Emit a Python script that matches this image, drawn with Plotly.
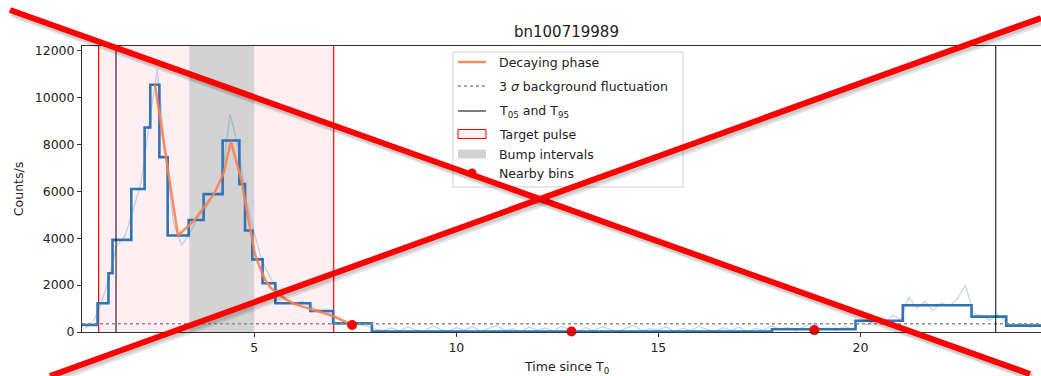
import numpy as np
import plotly.graph_objects as go

# ---- data -------------------------------------------------------------
# Bayesian-block light curve: block edges (s) and rates (counts/s)
block_edges = [0.735, 1.12, 1.39, 1.49, 1.955, 2.285, 2.425, 2.65, 2.855, 3.375,
               3.745, 4.215, 4.63, 4.77, 4.95, 5.205, 5.52, 6.385, 6.95, 7.91,
               17.81, 19.88, 21.05, 22.75, 23.61, 24.48]
block_rates = [300, 1225, 2505, 3930, 6100, 8725, 10550, 7460, 4115, 4780,
               5880, 8170, 6310, 4330, 3100, 2080, 1225, 895, 370, 15,
               115, 480, 1140, 655, 270]

# fine-binned light curve (0.2 s bins)
lc_time = np.round(np.arange(0.8, 24.41, 0.2), 2)
lc_rate = [150, 400, 1150, 2300, 3700, 4100, 5200, 6400, 8900, 11200,
           7600, 4600, 3700, 4200, 4900, 5300, 5900, 6600, 9300, 7900,
           5600, 4200, 3000, 2300, 1700, 1400, 1150, 1300, 1050, 900,
           850, 600, 450, 350, 300, 250, 120,
           60, 180, 40, 220, 90, 10, 260, 120, 30, 190,
           70, 240, 20, 150, 280, 60, 130, 10, 210, 80,
           170, 30, 250, 100, 0, 190, 60, 230, 110, 20,
           170, 270, 40, 140, 90, 220, 10, 160, 60, 250,
           110, 30, 180, 70, 210, 20, 150, 90,
           260, 120, 190, 40, 230, 380, 90, 170, 60, 240,
           130, 420, 300, 650, 380, 720, 520, 1500, 1000, 1300,
           900, 1250, 1100, 1400, 2000, 800, 700, 500, 750, 450,
           250, 350, 200, 300]

# decaying-phase curve
decay_time = [2.54, 3.11, 3.5, 4.0, 4.24, 4.42, 4.55, 4.68, 4.8, 4.9, 5.02,
              5.15, 5.27, 5.4, 5.56, 5.75, 5.97, 6.2, 6.47, 6.7, 6.95, 7.2, 7.42]
decay_rate = [10550, 4115, 4740, 5890, 6775, 8125, 7300, 6500, 5300, 4400, 3290,
              2700, 2220, 1900, 1650, 1420, 1225, 1080, 940, 820, 683, 480, 300]

bkg_level = 350                      # 3 sigma background fluctuation
t05, t95 = 1.577, 23.35
pulse_start, pulse_stop = 1.146, 6.965
bump_start, bump_stop = 3.39, 5.0
nearby_time = [7.42, 12.85, 18.86]
nearby_rate = [300, 20, 80]

title = "bn100719989"
legend_labels = ["Decaying phase", "3 <i>σ</i> background fluctuation",
                 "T<sub>05</sub> and T<sub>95</sub>", "Target pulse",
                 "Bump intervals", "Nearby bins"]
y_max = 12200
x_range = [0.735, 24.47]

# ---- colours ------------------------------------------------------------
c_pulse_fill = "rgba(255,192,203,0.25)"
c_bump = "#d3d3d3"
c_lc = "rgba(70,130,190,0.32)"
c_block = "#2f74b3"
c_bkg = "#8c8c8c"
c_decay = "rgba(255,127,80,0.9)"
txt = "#222222"
font = "DejaVu Sans, Liberation Sans, sans-serif"

# ---- figure ------------------------------------------------------------
W, H = 1041, 376
L, R, T, B = 82, 0, 46, 44
pad = 1000   # polygons spill past the y range so only their sides show

fig = go.Figure()

# target pulse span (fill only)
fig.add_trace(go.Scatter(
    x=[pulse_start, pulse_stop, pulse_stop, pulse_start, pulse_start],
    y=[-pad, -pad, y_max + pad, y_max + pad, -pad], mode="lines", fill="toself",
    fillcolor=c_pulse_fill, line=dict(width=0),
    showlegend=False, hoverinfo="skip"))

# bump interval span
fig.add_trace(go.Scatter(
    x=[bump_start, bump_stop, bump_stop, bump_start, bump_start],
    y=[-pad, -pad, y_max + pad, y_max + pad, -pad], mode="lines", fill="toself",
    fillcolor=c_bump, line=dict(width=0),
    showlegend=False, hoverinfo="skip"))

# pulse edges
for edge in (pulse_start, pulse_stop):
    fig.add_trace(go.Scatter(
        x=[edge, edge], y=[0, y_max], mode="lines",
        line=dict(color="#ff0000", width=1.2), showlegend=False,
        hoverinfo="skip"))

# fine light curve
fig.add_trace(go.Scatter(
    x=lc_time, y=lc_rate, mode="lines", line=dict(color=c_lc, width=1.3),
    showlegend=False, hoverinfo="skip"))

# block light curve
fig.add_trace(go.Scatter(
    x=block_edges, y=block_rates + [block_rates[-1]], mode="lines",
    line=dict(color=c_block, width=2.6, shape="hv"),
    showlegend=False, hoverinfo="skip"))

# background level
fig.add_trace(go.Scatter(
    x=x_range, y=[bkg_level, bkg_level], mode="lines",
    line=dict(color=c_bkg, width=1.6, dash="dot"),
    showlegend=False, hoverinfo="skip"))

# decaying phase
fig.add_trace(go.Scatter(
    x=decay_time, y=decay_rate, mode="lines",
    line=dict(color=c_decay, width=2.5), showlegend=False, hoverinfo="skip"))

# T05 / T95
fig.add_trace(go.Scatter(
    x=[t05, t05, None, t95, t95], y=[0, y_max, None, 0, y_max], mode="lines",
    line=dict(color="black", width=1), showlegend=False, hoverinfo="skip"))

# nearby bins
fig.add_trace(go.Scatter(
    x=nearby_time, y=nearby_rate, mode="markers",
    marker=dict(color="red", size=10), showlegend=False,
    hoverinfo="skip", cliponaxis=False))

pw, ph = W - L - R, H - T - B


def px(x):
    return (x - L) / pw


def py(y):
    return (H - B - y) / ph


shapes = []
annotations = []

# ---- legend box (pixel layout) ----------------------------------------
box = (453, 52, 683, 187)
shapes.append(dict(type="rect", xref="paper", yref="paper",
                   x0=px(box[0]), x1=px(box[2]), y0=py(box[3]), y1=py(box[1]),
                   fillcolor="rgba(255,255,255,0.85)",
                   line=dict(color="#d0d0d0", width=1), layer="above"))
rows = [62, 86, 111, 134, 154, 173]
sx0, sx1, tx0 = 458, 486, 497


def hline(y, color, width, dash="solid"):
    shapes.append(dict(type="line", xref="paper", yref="paper",
                       x0=px(sx0), x1=px(sx1), y0=py(y), y1=py(y),
                       line=dict(color=color, width=width, dash=dash),
                       layer="above"))


hline(rows[0], c_decay, 2.5)
hline(rows[1], c_bkg, 1.6, "dot")
hline(rows[2], "black", 1)
shapes.append(dict(type="rect", xref="paper", yref="paper",
                   x0=px(sx0), x1=px(sx1), y0=py(rows[3] + 4.5), y1=py(rows[3] - 4.5),
                   fillcolor="#fff0f3", line=dict(color="red", width=1),
                   layer="above"))
shapes.append(dict(type="rect", xref="paper", yref="paper",
                   x0=px(sx0), x1=px(sx1), y0=py(rows[4] + 4.5), y1=py(rows[4] - 4.5),
                   fillcolor=c_bump, line=dict(width=0), layer="above"))
shapes.append(dict(type="circle", xref="paper", yref="paper",
                   x0=px(472 - 4.5), x1=px(472 + 4.5),
                   y0=py(rows[5] + 4.5), y1=py(rows[5] - 4.5),
                   fillcolor="red", line=dict(width=0), layer="above"))
for r, lab in zip(rows, legend_labels):
    annotations.append(dict(text=lab, x=px(tx0), y=py(r), xref="paper",
                            yref="paper", showarrow=False, xanchor="left",
                            yanchor="middle", font=dict(size=12.5, color=txt)))

# ---- red cross with a soft drop shadow ---------------------------------
cross = [((10, 10), (1030, 374)), ((50, 376), (1041, 18))]
for (a, b) in cross:
    for dx, dy, col, w in [(2.5, 3.5, "rgba(0,0,0,0.10)", 8),
                           (1.5, 2.5, "rgba(0,0,0,0.10)", 6.5),
                           (0, 0, "#ff0000", 6)]:
        shapes.append(dict(type="line", xref="paper", yref="paper",
                           x0=px(a[0] + dx), y0=py(a[1] + dy),
                           x1=px(b[0] + dx), y1=py(b[1] + dy),
                           line=dict(color=col, width=w), layer="above"))

annotations.append(dict(text=title, x=px(566.7), y=py(31.7), xref="paper",
                        yref="paper", showarrow=False,
                        font=dict(size=15, color=txt),
                        xanchor="center", yanchor="middle"))
annotations.append(dict(text="Time since T<sub>0</sub>", x=px(566), y=py(367),
                        xref="paper", yref="paper", showarrow=False,
                        font=dict(size=12.5, color=txt),
                        xanchor="center", yanchor="middle"))

fig.update_layout(
    width=W, height=H,
    margin=dict(l=L, r=R, t=T, b=B, autoexpand=False),
    paper_bgcolor="white", plot_bgcolor="white",
    font=dict(family=font, size=12.5, color=txt),
    shapes=shapes, annotations=annotations,
    showlegend=False,
    xaxis=dict(range=x_range, showgrid=False, zeroline=False,
               showline=True, mirror=True, linecolor="#333333", linewidth=1,
               ticks="outside", ticklen=4, tickcolor="#333333",
               tickvals=[5, 10, 15, 20], tickfont=dict(size=12.5, color=txt)),
    yaxis=dict(range=[0, y_max], showgrid=False, zeroline=False,
               showline=True, linecolor="#333333", linewidth=1,
               ticks="outside", ticklen=4, tickcolor="#333333",
               tickvals=[0, 2000, 4000, 6000, 8000, 10000, 12000],
               tickformat="d",
               tickfont=dict(size=12.5, color=txt),
               title=dict(text="Counts/s", font=dict(size=12.5, color=txt),
                          standoff=8)),
)

fig.write_html("out.html", config={"displayModeBar": False})
